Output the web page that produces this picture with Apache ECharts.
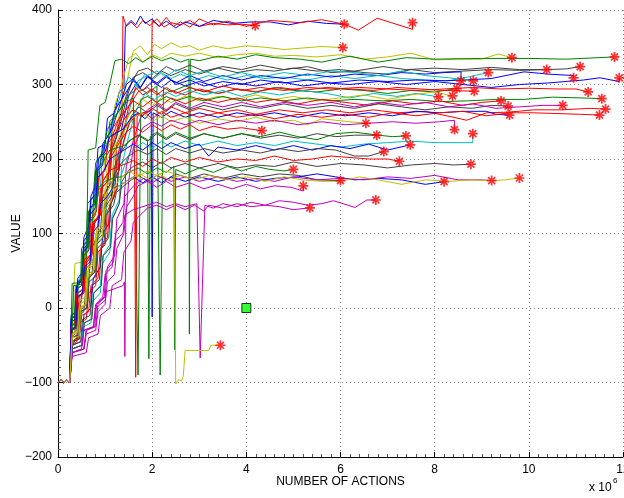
<!DOCTYPE html>
<html>
<head>
<meta charset="utf-8">
<script src="https://cdn.jsdelivr.net/npm/echarts@6/dist/echarts.min.js"></script>
<style>
  html, body { margin: 0; padding: 0; background: #fff; }
  #chart { width: 624px; height: 498px; }
</style>
</head>
<body>
<div id="chart"></div>
<script>
// Learning runs: value against number of actions (x in millions).
// Every run starts from the same flat stretch near -100.
const startSeg = [[0,-100],[0.06,-96],[0.12,-100],[0.18,-97],[0.25,-100]];

const run01 = [[0.27,-40],[0.36,-35],[0.38,0],[0.5,10],[0.55,50],[0.7,60],[0.75,110],[0.9,130],[0.95,180],[1.1,200],[1.15,240],[1.3,255],[1.36,262],[1.38,392],[1.45,378],[1.55,384],[1.68,376],[1.8,386],[1.95,379],[2.1,388],[2.25,377],[2.4,383],[2.6,380],[2.8,386],[3.0,378],[3.3,382],[3.6,380],[3.9,381],[4.19,379]];
const run02 = [[0.27,-100],[0.28,-20],[0.35,-15],[0.4,30],[0.5,40],[0.55,95],[0.65,110],[0.7,150],[0.8,165],[0.85,215],[1.0,220],[1.05,255],[1.2,262],[1.3,290],[1.4,295],[1.43,378],[1.55,386],[1.65,380],[1.75,392],[1.85,382],[2.0,388],[2.15,378],[2.3,385],[2.5,376],[2.7,384],[3.0,378],[3.3,386],[3.7,382],[4.1,384],[4.5,384],[4.9,380],[5.3,385],[5.7,382],[6.08,381]];
const run03 = [[0.3,-50],[0.4,-40],[0.45,-5],[0.6,5],[0.65,40],[0.8,55],[0.85,100],[1.0,115],[1.05,160],[1.2,175],[1.25,220],[1.4,240],[1.6,258],[1.8,262],[1.98,265],[2.0,386],[2.15,378],[2.3,390],[2.45,378],[2.6,384],[2.8,377],[3.0,388],[3.3,380],[3.6,385],[4.0,378],[4.5,386],[5.14,383],[5.6,387],[6.08,381],[6.38,373],[6.78,389],[7.53,374],[7.53,383]];
const run04 = [[0.3,-45],[0.45,-40],[0.5,0],[0.62,10],[0.68,60],[0.8,70],[0.85,120],[1.0,135],[1.05,200],[1.2,215],[1.3,260],[1.45,300],[1.6,345],[1.75,352],[1.9,340],[2.05,354],[2.2,348],[2.4,356],[2.6,350],[2.8,352],[3.0,346],[3.3,352],[3.6,348],[4.0,352],[4.4,350],[4.8,347],[5.2,349],[5.6,351],[6.05,349.5]];
const run05 = [[0.3,-30],[0.36,60],[0.6,62],[0.62,100],[0.75,105],[0.8,150],[0.95,160],[1.0,210],[1.15,225],[1.2,270],[1.35,300],[1.5,335],[1.65,342],[1.8,330],[2.0,340],[2.2,335],[2.4,342],[2.7,338],[3.0,342],[3.4,336],[3.8,340],[4.2,342],[4.6,338],[5.0,339],[5.5,337],[6.0,340],[6.5,334],[7.0,337],[7.5,342],[8.0,333],[8.5,334],[9.0,334],[9.35,341],[9.64,336]];
const run06 = [[0.28,-20],[0.3,33],[0.6,35],[0.64,212],[0.8,215],[0.89,272],[1.0,276],[1.1,300],[1.21,332],[1.35,334],[1.5,328],[1.65,336],[1.8,330],[2.0,338],[2.2,332],[2.4,336],[2.6,330],[2.78,334],[2.79,-35],[2.81,334],[3.0,332],[3.4,338],[3.8,334],[4.2,340],[4.6,336],[5.14,334],[5.6,330],[6.2,338],[6.8,330],[7.4,336],[8.0,334],[9.0,335],[10.0,335],[10.8,334],[11.82,337]];
const run07 = [[0.3,-45],[0.4,-40],[0.45,-10],[0.55,-5],[0.6,35],[0.72,45],[0.78,90],[0.9,100],[0.95,150],[1.1,165],[1.15,215],[1.3,240],[1.45,280],[1.6,310],[1.8,316],[2.0,308],[2.2,318],[2.4,312],[2.7,320],[3.0,314],[3.4,322],[3.8,316],[4.2,320],[4.6,318],[5.0,322],[5.5,318],[6.0,320],[6.5,316],[7.0,314],[7.5,320],[8.0,316],[8.6,318],[9.2,320],[9.8,319],[10.38,320]];
const run08 = [[0.3,-30],[0.45,-25],[0.5,20],[0.65,30],[0.7,80],[0.85,95],[0.9,140],[1.05,160],[1.1,205],[1.25,230],[1.35,265],[1.5,295],[1.7,318],[1.9,322],[2.1,314],[2.3,324],[2.5,318],[2.8,326],[3.1,318],[3.5,324],[3.9,320],[4.3,326],[4.8,320],[5.3,324],[5.8,316],[6.3,318],[6.9,324],[7.4,320],[8.0,322],[8.6,320],[9.2,323],[9.8,320],[10.4,320],[10.8,321],[11.09,324]];
const run09 = [[0.27,-60],[0.3,-10],[0.4,-5],[0.45,40],[0.55,48],[0.6,90],[0.72,100],[0.78,150],[0.9,162],[0.95,210],[1.1,230],[1.2,260],[1.35,290],[1.5,310],[1.7,300],[1.85,314],[2.0,306],[2.2,316],[2.4,308],[2.6,314],[2.9,306],[3.2,312],[3.6,306],[4.0,312],[4.4,308],[4.8,310],[5.3,306],[5.8,312],[6.3,308],[6.8,312],[7.3,308],[7.8,306],[8.3,305],[8.7,310],[9.14,316]];
const run10 = [[0.27,-100],[0.28,-15],[0.38,-10],[0.42,35],[0.5,40],[0.55,85],[0.65,92],[0.7,135],[0.8,140],[0.85,185],[0.95,192],[1.0,225],[1.15,240],[1.3,270],[1.45,300],[1.6,308],[1.75,296],[1.9,310],[2.1,302],[2.3,312],[2.5,300],[2.8,306],[3.1,298],[3.5,304],[3.9,300],[4.3,306],[4.8,302],[5.3,306],[5.8,302],[6.4,306],[7.0,304],[7.6,306],[8.2,305],[8.6,306],[9.2,308],[9.9,317],[10.4,314],[10.95,312],[10.95,309]];
const run11 = [[0.3,-50],[0.5,-45],[0.55,-10],[0.7,0],[0.75,40],[0.9,55],[0.95,100],[1.1,115],[1.15,165],[1.3,185],[1.35,240],[1.5,285],[1.65,300],[1.8,292],[2.0,304],[2.2,296],[2.4,306],[2.7,298],[3.0,304],[3.4,296],[3.8,302],[4.2,298],[4.7,304],[5.2,298],[5.7,302],[6.2,300],[6.8,304],[7.4,300],[8.0,304],[8.6,300],[9.2,296],[9.8,300],[10.4,302],[11.16,306],[11.51,309],[11.92,304],[11.92,309]];
const run12 = [[0.27,-80],[0.28,-15],[0.36,-10],[0.4,30],[0.5,38],[0.55,80],[0.62,85],[0.66,130],[0.75,140],[0.8,185],[0.9,192],[0.95,220],[1.1,235],[1.2,265],[1.45,290],[1.6,305],[1.75,296],[1.9,312],[2.1,300],[2.3,310],[2.5,302],[2.8,312],[3.1,304],[3.5,312],[3.9,306],[4.3,312],[4.8,308],[5.3,314],[5.8,310],[6.3,314],[6.8,312],[7.3,316],[7.8,314],[8.2,316],[8.56,317],[8.56,305]];
const run13 = [[0.3,-45],[0.45,-42],[0.5,-5],[0.62,0],[0.66,40],[0.8,50],[0.85,95],[1.0,110],[1.05,150],[1.2,165],[1.3,210],[1.45,250],[1.6,285],[1.7,305],[1.9,312],[2.1,318],[2.3,310],[2.5,320],[2.8,312],[3.1,318],[3.5,310],[3.9,316],[4.3,310],[4.8,316],[5.3,312],[5.8,318],[6.3,316],[6.8,312],[7.3,318],[7.8,312],[8.3,309],[8.82,305]];
const run14 = [[0.3,-35],[0.4,-30],[0.42,20],[0.55,25],[0.58,80],[0.7,90],[0.75,140],[0.85,150],[0.9,200],[1.05,210],[1.1,250],[1.3,265],[1.5,285],[1.7,296],[1.9,288],[2.1,298],[2.17,-90],[2.24,296],[2.4,290],[2.7,298],[3.0,292],[3.4,288],[3.8,294],[4.2,290],[4.6,296],[5.0,292],[5.5,290],[6.0,294],[6.5,292],[7.0,288],[7.5,292],[8.0,290],[8.47,294.5]];
const run15 = [[0.28,-50],[0.4,-45],[0.45,-20],[0.6,-15],[0.65,20],[0.8,30],[0.85,75],[1.0,85],[1.05,130],[1.2,150],[1.25,200],[1.4,240],[1.5,270],[1.65,296],[1.8,286],[2.0,294],[2.2,284],[2.4,292],[2.7,286],[3.0,294],[3.4,288],[3.8,294],[4.2,290],[4.7,296],[5.2,292],[5.7,296],[6.2,294],[6.7,292],[7.2,296],[7.7,294],[8.2,292],[8.84,291]];
const run16 = [[0.3,-30],[0.38,-25],[0.42,15],[0.55,20],[0.6,60],[0.72,70],[0.78,115],[0.9,125],[0.95,170],[1.1,185],[1.15,230],[1.3,255],[1.5,270],[1.7,290],[1.9,296],[2.1,286],[2.3,296],[2.5,288],[2.8,296],[3.1,290],[3.5,298],[3.9,292],[4.3,296],[4.8,292],[5.3,296],[5.8,294],[6.4,296],[7.0,294],[7.6,292],[8.2,294],[8.8,296],[9.4,294],[10.0,295],[10.6,294],[11.0,294],[11.26,290]];
const run17 = [[0.3,-55],[0.5,-50],[0.55,-25],[0.7,-20],[0.75,10],[0.9,20],[0.95,60],[1.1,75],[1.15,120],[1.3,140],[1.35,190],[1.5,230],[1.65,265],[1.85,288],[2.05,280],[2.3,290],[2.5,284],[2.8,292],[3.1,286],[3.5,292],[3.9,284],[4.3,290],[4.7,286],[5.2,292],[5.7,288],[6.2,282],[6.7,288],[7.2,284],[7.6,288],[8.08,283.5]];
const run18 = [[0.3,-35],[0.42,-30],[0.45,10],[0.6,15],[0.65,55],[0.78,62],[0.82,105],[0.95,115],[1.0,160],[1.15,175],[1.2,215],[1.4,245],[1.6,270],[1.8,280],[2.0,272],[2.2,282],[2.4,276],[2.7,284],[3.0,278],[3.4,284],[3.8,280],[4.2,286],[4.6,280],[5.0,284],[5.5,278],[6.0,282],[6.5,286],[7.0,280],[7.5,286],[8.0,290],[8.38,284.6]];
const run19 = [[0.3,-25],[0.35,-20],[0.38,30],[0.48,35],[0.5,80],[0.6,88],[0.63,140],[0.75,150],[0.8,195],[0.95,210],[1.05,240],[1.3,265],[1.45,276],[1.6,282],[1.7,-90],[1.76,280],[1.9,284],[2.1,276],[2.3,284],[2.5,278],[2.8,284],[3.1,278],[3.5,284],[3.9,278],[4.3,282],[4.8,278],[5.3,282],[5.8,278],[6.3,280],[6.9,278],[7.5,280],[8.1,277],[8.7,278],[9.3,280],[9.9,280],[10.5,283],[11.1,282],[11.55,281]];
const run20 = [[0.28,-30],[0.4,-25],[0.45,15],[0.55,20],[0.6,65],[0.72,72],[0.76,115],[0.9,125],[0.95,170],[1.1,185],[1.15,220],[1.3,248],[1.45,268],[1.6,278],[1.8,270],[2.0,280],[2.2,272],[2.4,282],[2.7,274],[3.0,282],[3.4,276],[3.8,282],[4.2,276],[4.6,280],[5.1,274],[5.6,280],[6.1,276],[6.6,272],[7.1,278],[7.6,274],[8.1,278],[8.6,272],[9.0,276],[9.41,278]];
const run21 = [[0.3,-50],[0.48,-45],[0.52,-15],[0.68,-10],[0.72,30],[0.88,38],[0.92,80],[1.08,95],[1.12,140],[1.26,160],[1.3,200],[1.45,235],[1.56,258],[1.72,270],[1.9,262],[2.1,272],[2.3,264],[2.5,274],[2.8,266],[3.1,272],[3.5,266],[3.9,272],[4.3,268],[4.8,274],[5.3,268],[5.8,272],[6.3,268],[6.8,274],[7.3,270],[7.8,266],[8.3,270],[8.8,268],[9.2,272],[9.56,271]];
const run22 = [[0.3,-60],[0.55,-55],[0.6,-30],[0.8,-25],[0.85,5],[1.0,15],[1.05,55],[1.2,70],[1.25,120],[1.4,140],[1.45,190],[1.6,225],[1.75,255],[1.9,266],[2.1,274],[2.3,266],[2.5,276],[2.8,268],[3.1,276],[3.5,270],[3.9,276],[4.3,270],[4.8,276],[5.3,272],[5.8,276],[6.3,270],[6.8,276],[7.3,272],[7.8,276],[8.3,270],[8.8,274],[9.3,268],[9.8,270],[10.3,272],[10.72,272]];
const run23 = [[0.27,-100],[0.28,-25],[0.36,-20],[0.4,25],[0.5,30],[0.55,70],[0.66,78],[0.7,120],[0.82,130],[0.86,175],[1.0,185],[1.05,220],[1.3,242],[1.45,258],[1.6,266],[1.8,258],[2.0,268],[2.2,260],[2.4,270],[2.7,262],[3.0,268],[3.4,262],[3.8,266],[4.2,260],[4.7,266],[5.2,262],[5.7,266],[6.2,262],[6.7,266],[7.2,262],[7.8,264],[8.4,256],[8.68,252],[9.1,262],[9.6,263],[10.1,266],[10.7,266],[11.3,268],[11.63,267]];
const run24 = [[0.27,-100],[0.28,-10],[0.38,-5],[0.42,40],[0.52,48],[0.55,90],[0.66,100],[0.7,145],[0.82,155],[0.86,200],[1.0,210],[1.1,230],[1.38,240],[1.55,255],[1.7,262],[1.85,254],[1.98,264],[2.0,-12],[2.02,262],[2.2,256],[2.4,264],[2.7,256],[3.0,262],[3.4,256],[3.8,262],[4.2,258],[4.6,262],[5.1,256],[5.6,262],[6.1,258],[6.6,262],[7.1,258],[7.6,264],[8.1,262],[8.6,264],[9.1,264],[9.3,260],[9.59,259]];
const run25 = [[0.3,-45],[0.45,-40],[0.5,-10],[0.65,-5],[0.7,30],[0.85,40],[0.9,80],[1.05,95],[1.1,140],[1.25,160],[1.3,200],[1.42,230],[1.52,248],[1.62,256],[1.65,-93],[1.68,258],[1.85,262],[2.0,254],[2.2,264],[2.4,256],[2.7,262],[3.0,256],[3.4,262],[3.8,256],[4.2,260],[4.6,254],[5.1,260],[5.6,256],[6.1,260],[6.6,256],[7.1,262],[7.6,258],[8.1,262],[8.6,264],[9.1,258],[9.6,262],[10.1,262],[10.6,261],[11.1,260],[11.5,259]];
const run26 = [[0.3,-40],[0.42,-36],[0.46,5],[0.58,10],[0.62,50],[0.75,58],[0.8,100],[0.95,110],[1.0,150],[1.15,168],[1.2,205],[1.35,230],[1.5,248],[1.6,256],[1.8,262],[2.0,250],[2.2,258],[2.4,250],[2.7,256],[3.0,248],[3.4,254],[3.8,250],[4.2,256],[4.6,250],[5.0,252],[5.3,246],[5.6,254],[5.9,252],[6.2,250],[6.54,248]];
const run27 = [[0.3,-55],[0.5,-50],[0.55,-30],[0.75,-25],[0.8,0],[1.0,10],[1.03,22],[1.38,30],[1.41,35],[1.42,-65],[1.44,120],[1.5,170],[1.6,215],[1.8,242],[2.0,250],[2.2,244],[2.4,252],[2.7,246],[3.0,252],[3.4,246],[3.8,252],[4.2,248],[4.6,252],[5.1,246],[5.6,250],[6.1,246],[6.6,248],[7.1,250],[7.6,248],[8.1,250],[8.42,252],[8.42,239.5]];
const run28 = [[0.28,-30],[0.36,-25],[0.4,15],[0.52,20],[0.56,60],[0.68,68],[0.72,110],[0.85,120],[0.9,160],[1.05,170],[1.1,200],[1.3,222],[1.45,236],[1.6,244],[1.8,236],[2.0,246],[2.2,238],[2.4,246],[2.6,240],[2.8,246],[3.0,238],[3.3,244],[3.6,240],[3.9,242],[4.1,240],[4.33,238]];
const run29 = [[0.3,-45],[0.45,-42],[0.48,-5],[0.6,0],[0.64,40],[0.78,48],[0.82,90],[0.96,100],[1.0,140],[1.15,155],[1.2,190],[1.35,210],[1.5,224],[1.7,232],[1.9,224],[2.1,234],[2.3,226],[2.5,234],[2.8,226],[3.1,234],[3.5,228],[3.9,234],[4.3,228],[4.7,232],[5.1,228],[5.5,234],[5.9,230],[6.3,232],[6.77,232]];
const run30 = [[0.3,-30],[0.35,-25],[0.37,25],[0.5,30],[0.52,75],[0.62,82],[0.65,130],[0.78,140],[0.82,185],[0.95,195],[1.1,212],[1.4,218],[1.56,226],[1.72,232],[1.9,226],[1.93,-68],[1.96,230],[2.1,236],[2.3,228],[2.5,236],[2.8,228],[3.1,234],[3.5,228],[3.9,234],[4.3,230],[4.7,236],[5.1,230],[5.5,226],[5.9,234],[6.3,236],[6.8,232],[7.1,230],[7.39,231]];
const run31 = [[0.3,-55],[0.5,-50],[0.55,-20],[0.7,-15],[0.75,20],[0.9,30],[0.95,70],[1.1,85],[1.15,125],[1.3,145],[1.35,180],[1.5,205],[1.62,214],[1.8,222],[2.0,214],[2.2,224],[2.4,216],[2.7,224],[3.0,218],[3.4,224],[3.8,218],[4.2,222],[4.6,218],[5.0,224],[5.5,220],[6.0,216],[6.5,220],[7.0,222],[7.5,224],[8.0,222],[8.5,222],[8.81,222],[8.81,234]];
const run32 = [[0.27,-100],[0.28,-20],[0.36,-15],[0.4,30],[0.5,36],[0.54,75],[0.64,82],[0.68,125],[0.8,135],[0.84,175],[0.98,185],[1.1,200],[1.3,208],[1.45,214],[1.6,220],[1.8,212],[2.0,222],[2.2,214],[2.4,222],[2.7,214],[3.0,220],[3.2,204],[3.4,216],[3.8,212],[4.2,218],[4.6,212],[5.0,218],[5.4,212],[5.8,218],[6.2,214],[6.6,220],[7.0,212],[7.48,219]];
const run33 = [[0.3,-40],[0.42,-36],[0.46,0],[0.6,5],[0.64,40],[0.78,48],[0.82,85],[0.96,95],[1.0,135],[1.15,150],[1.2,180],[1.35,195],[1.5,204],[1.7,212],[1.9,206],[2.1,214],[2.3,206],[2.5,214],[2.8,208],[3.1,214],[3.5,208],[3.9,212],[4.3,208],[4.7,214],[5.1,210],[5.5,214],[5.9,212],[6.3,204],[6.6,204],[6.92,210]];
const run34 = [[0.28,-25],[0.36,-20],[0.4,20],[0.52,25],[0.56,65],[0.7,72],[0.74,115],[0.88,125],[0.92,160],[1.05,170],[1.1,185],[1.3,190],[1.45,194],[1.6,198],[1.8,190],[2.0,200],[2.2,194],[2.4,202],[2.7,196],[3.0,202],[3.4,196],[3.8,200],[4.2,198],[4.6,204],[5.0,198],[5.4,200],[5.8,204],[6.2,202],[6.6,200],[7.0,200],[7.25,197]];
const run35 = [[0.3,-55],[0.52,-50],[0.56,-20],[0.72,-15],[0.76,20],[0.92,30],[0.96,70],[1.12,82],[1.16,120],[1.3,140],[1.36,170],[1.5,185],[1.6,190],[1.8,196],[2.0,188],[2.2,196],[2.4,188],[2.7,194],[3.0,188],[3.4,194],[3.8,188],[4.2,192],[4.6,190],[5.0,196],[5.5,190],[6.0,194],[6.5,192],[7.0,188],[7.5,192],[8.0,194],[8.4,192],[8.77,193]];
const run36 = [[0.3,-30],[0.33,30],[0.5,32],[0.52,70],[0.64,76],[0.67,115],[0.8,125],[0.84,160],[1.0,170],[1.2,175],[1.35,176],[1.5,182],[1.7,188],[1.9,180],[2.1,188],[2.3,182],[2.46,190],[2.48,-56],[2.5,186],[2.7,180],[3.0,188],[3.3,182],[3.6,190],[3.9,184],[4.2,190],[4.5,186],[4.8,184],[5.0,186]];
const run37 = [[0.3,-60],[0.55,-55],[0.6,-35],[0.8,-30],[0.85,-5],[1.0,5],[1.05,35],[1.2,45],[1.25,80],[1.4,100],[1.45,135],[1.6,150],[1.7,164],[1.9,170],[2.1,162],[2.3,170],[2.5,162],[2.8,168],[3.1,160],[3.4,166],[3.7,160],[4.0,166],[4.3,160],[4.6,164],[4.95,162],[5.21,157],[5.21,164]];
const run38 = [[0.3,-40],[0.45,-36],[0.48,-5],[0.62,0],[0.66,35],[0.8,42],[0.84,80],[0.98,90],[1.02,125],[1.18,138],[1.24,155],[1.4,164],[1.56,172],[1.72,178],[1.9,170],[2.1,178],[2.3,172],[2.5,180],[2.8,174],[3.1,180],[3.5,174],[3.9,180],[4.3,176],[4.7,180],[5.1,178],[5.5,172],[6.0,171]];
const run39 = [[0.27,-100],[0.28,-30],[0.38,-25],[0.42,15],[0.52,20],[0.56,55],[0.68,62],[0.72,100],[0.85,110],[0.9,140],[1.05,150],[1.15,160],[1.3,164],[1.45,170],[1.6,176],[1.8,168],[2.0,176],[2.2,168],[2.4,176],[2.7,170],[3.0,176],[3.4,170],[3.8,176],[4.2,170],[4.6,174],[5.1,176],[5.5,180],[5.9,176],[6.3,172],[6.8,174],[7.3,172],[7.8,166],[8.2,169.5]];
const run40 = [[0.3,-60],[0.55,-55],[0.6,-30],[0.78,-25],[0.82,5],[0.98,15],[1.02,50],[1.18,62],[1.22,100],[1.38,115],[1.42,150],[1.55,160],[1.64,166],[1.82,174],[2.0,168],[2.2,176],[2.4,170],[2.7,176],[3.0,170],[3.4,176],[3.8,170],[4.2,174],[4.6,170],[5.0,176],[5.5,172],[6.0,174],[6.5,172],[7.0,176],[7.5,174],[8.0,178],[8.5,172],[9.0,172],[9.21,171]];
const run41 = [[0.3,-35],[0.42,-32],[0.45,0],[0.58,5],[0.62,40],[0.75,48],[0.8,85],[0.94,95],[0.98,130],[1.12,142],[1.2,160],[1.4,168],[1.56,174],[1.75,180],[1.95,172],[2.15,180],[2.35,172],[2.6,178],[2.9,172],[3.2,178],[3.6,172],[4.0,176],[4.4,170],[4.8,176],[5.2,172],[5.6,170],[6.0,170],[6.4,176],[6.8,172],[7.3,166],[7.8,172],[8.3,170],[8.8,172],[9.2,171],[9.5,172],[9.8,174.5]];
const run42 = [[0.3,-65],[0.6,-60],[0.65,-40],[0.85,-35],[0.9,-10],[1.1,0],[1.15,30],[1.35,38],[1.4,75],[1.55,90],[1.6,115],[1.75,125],[1.9,134],[2.1,138],[2.3,132],[2.5,138],[2.7,132],[2.9,138],[3.1,130],[3.2,138],[3.5,134],[3.8,140],[4.1,136],[4.4,138],[4.7,136],[5.0,132],[5.35,134.5]];
const run43 = [[0.3,-60],[0.5,-55],[0.55,-30],[0.75,-25],[0.8,5],[0.95,15],[1.0,45],[1.15,55],[1.2,90],[1.38,100],[1.42,125],[1.6,132],[1.9,138],[2.1,142],[2.3,136],[2.5,140],[2.7,136],[2.95,140],[3.02,-67],[3.12,138],[3.3,134],[3.5,140],[3.8,136],[4.1,142],[4.4,138],[4.7,144],[5.0,142],[5.3,138],[5.6,140],[5.85,144],[6.31,135],[6.56,145],[6.75,145]];
const run44 = [[0.3,-40],[0.45,-38],[0.48,0],[0.6,5],[0.64,45],[0.78,52],[0.82,95],[0.96,105],[1.0,140],[1.15,158],[1.3,172],[1.5,184],[1.7,176],[1.9,184],[2.1,178],[2.3,184],[2.47,180],[2.5,-102],[2.56,-96],[2.62,-98],[2.66,-92],[2.7,-57],[3.2,-57],[3.25,-50],[3.45,-50]];

const runs = [run01,run02,run03,run04,run05,run06,run07,run08,run09,run10,run11,run12,run13,run14,run15,run16,run17,run18,run19,run20,run21,run22,run23,run24,run25,run26,run27,run28,run29,run30,run31,run32,run33,run34,run35,run36,run37,run38,run39,run40,run41,run42,run43,run44];
const runColorKeys = ['r','b','r','y','y','g','k','k','c','b','b','b','c','g','r','r','c','y','g','r','k','m','r','b','r','y','m','r','k','g','c','b','k','r','k','g','m','k','b','m','y','m','m','y'];

// Reference point marked with a square
const refPoint = [[4, 0]];

const xTicks = [0, 2, 4, 6, 8, 10, 12];
const yTicks = [-200, -100, 0, 100, 200, 300, 400];

const palette = { b: '#0000ff', g: '#008000', r: '#ff0000', c: '#00bfbf', m: '#bf00bf', y: '#bfbf00', k: '#404040' };
const FONT = 'Liberation Sans, Arial, Helvetica, sans-serif';

const lineSeries = runs.map((pts, i) => ({
  type: 'line',
  data: startSeg.concat(pts),
  showSymbol: false,
  symbol: 'none',
  lineStyle: { color: palette[runColorKeys[i]], width: 1 },
  itemStyle: { color: palette[runColorKeys[i]] },
  z: 2,
  silent: true,
  animation: false
}));

// Final point of every run gets an asterisk
const endPoints = runs.map(pts => pts[pts.length - 1]);

const chart = echarts.init(document.getElementById('chart'), null, { renderer: 'canvas' });
chart.setOption({
  animation: false,
  backgroundColor: '#ffffff',
  grid: { left: 58, right: 1, top: 10, bottom: 41, containLabel: false, outerBoundsMode: 'none' },
  xAxis: {
    type: 'value',
    min: xTicks[0], max: xTicks[xTicks.length - 1], interval: 2,
    name: 'NUMBER OF ACTIONS',
    nameLocation: 'middle', nameGap: 19, nameMoveOverlap: false,
    nameTextStyle: { fontFamily: FONT, fontSize: 12, color: '#000', verticalAlign: 'top' },
    axisLine: { show: true, onZero: false, lineStyle: { color: '#000', width: 1 } },
    axisTick: { show: true, inside: true, length: 5, lineStyle: { color: '#000' } },
    minorTick: { show: true, splitNumber: 10, length: 3, lineStyle: { color: '#555' } },
    axisLabel: { fontFamily: FONT, fontSize: 12, color: '#000', margin: 7, showMaxLabel: true, showMinLabel: true },
    splitLine: { show: true, lineStyle: { color: '#8a8a8a', width: 1, type: [1, 3] } }
  },
  yAxis: {
    type: 'value',
    min: yTicks[0], max: yTicks[yTicks.length - 1], interval: 100,
    name: 'VALUE',
    nameLocation: 'middle', nameGap: 41, nameRotate: 90, nameMoveOverlap: false,
    nameTextStyle: { fontFamily: FONT, fontSize: 12, color: '#000', verticalAlign: 'middle' },
    axisLine: { show: true, onZero: false, lineStyle: { color: '#000', width: 1 } },
    axisTick: { show: true, inside: true, length: 5, lineStyle: { color: '#000' } },
    minorTick: { show: true, splitNumber: 10, length: 3, lineStyle: { color: '#555' } },
    axisLabel: {
      fontFamily: FONT, fontSize: 12, color: '#000', margin: 6,
      formatter: v => (v < 0 ? '\u2212' + Math.abs(v) : String(v))
    },
    splitLine: { show: true, lineStyle: { color: '#8a8a8a', width: 1, type: [1, 3] } }
  },
  series: lineSeries.concat([
    {
      type: 'scatter',
      data: endPoints,
      symbol: 'path://M5 0L5 10M0 5L10 5M1.5 1.5L8.5 8.5M1.5 8.5L8.5 1.5',
      symbolSize: 10,
      itemStyle: { color: 'rgba(0,0,0,0)', borderColor: '#ff0000', borderWidth: 1.7 },
      z: 5, silent: true, animation: false
    },
    {
      type: 'scatter',
      data: refPoint,
      symbol: 'rect',
      symbolSize: 9,
      itemStyle: { color: '#00ff00', borderColor: '#000000', borderWidth: 1 },
      z: 6, silent: true, animation: false
    }
  ]),
  graphic: [
    { type: 'text', left: 589, top: 482, style: { text: 'x 10', font: '12px ' + FONT, fill: '#000' } },
    { type: 'text', left: 613, top: 477, style: { text: '6', font: '8px ' + FONT, fill: '#000' } }
  ]
});
</script>
</body>
</html>
